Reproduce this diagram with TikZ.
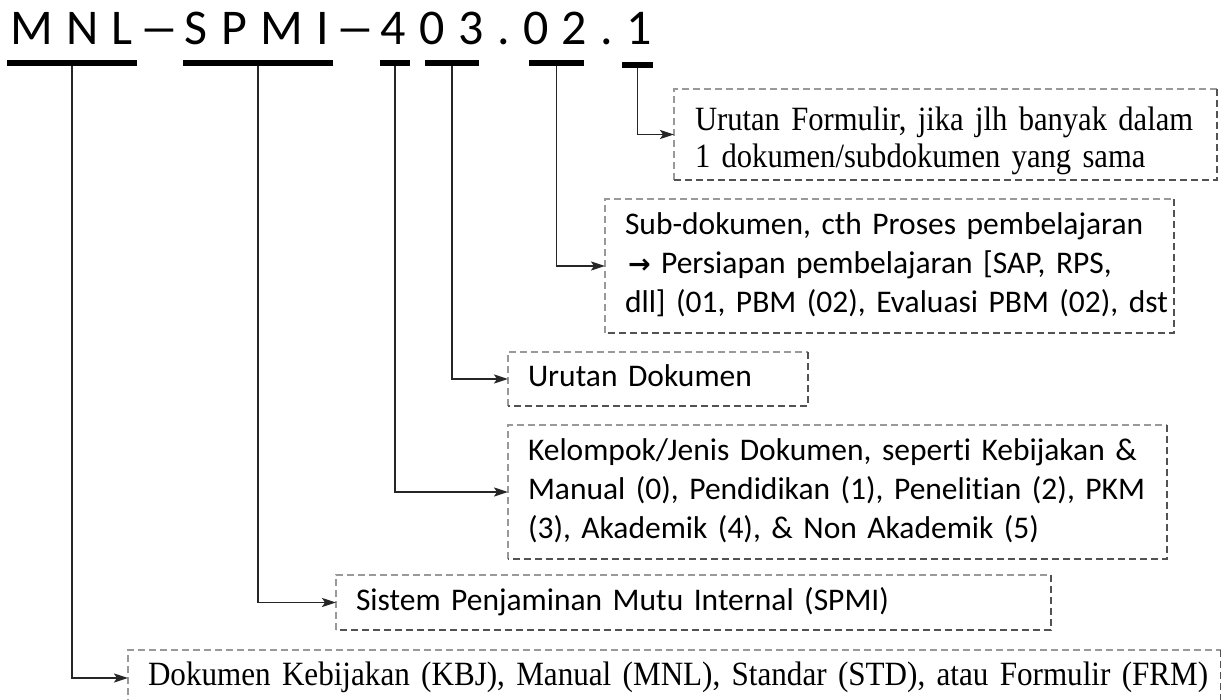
\documentclass[tikz,border=0pt]{standalone}
\usepackage{fontspec}
\setmainfont[Ligatures=CommonOff]{Carlito}
\newfontfamily\seriffont[FakeStretch=0.90]{Liberation Serif}
\newfontfamily\seriffontb[FakeStretch=0.915]{Liberation Serif}
\newfontfamily\arrowfont{DejaVu Sans}
\newfontfamily\titlefont[LetterSpace=26.8]{Carlito}
\usetikzlibrary{arrows.meta}
\newcommand\textlines[1]{\begin{tabular}{@{}l@{}}#1\end{tabular}}
\newcommand\widedash{\hspace{0.268em}\makebox[0.5em][c]{\scalebox{1.6}[1]{–}}\hspace{0.268em}}
\begin{document}
\begin{tikzpicture}[x=1pt,y=-1pt,
  bar/.style={fill=black, draw=none, minimum height=5.5pt, inner sep=0pt, outer sep=0pt},
  conn/.style={draw=black!85, line width=1.9pt, -{Stealth[length=14pt,width=9pt,inset=3pt]}},
  docbox/.style={draw=none, anchor=north west, inner xsep=20pt, inner ysep=0pt, outer sep=0pt, align=left},
  sansbox/.style={docbox, font=\fontsize{31.5}{39}\selectfont},
  serifbox/.style={docbox, font=\seriffont\fontsize{34}{37}\selectfont},
  lightedge/.style={draw=black!40, line width=1.6pt, dash pattern=on 7pt off 4pt},
  darkedge/.style={draw=black!68, line width=1.6pt, dash pattern=on 7pt off 4pt}
]
\useasboundingbox (0,0) rectangle (1221,700);
\clip (0,0) rectangle (1221,700);

% code title
\node[anchor=base west, inner sep=0pt, font=\titlefont\fontsize{50}{60}\selectfont] (title) at (10,45) {MNL\widedash SPMI\widedash 403.02.1};

% underline bars
\node[bar, minimum width=130pt] (bMNL) at (72,63) {};
\node[bar, minimum width=150pt] (bSPMI) at (258,63) {};
\node[bar, minimum width=30pt] (b4) at (395,63) {};
\node[bar, minimum width=54pt] (b03) at (452,63) {};
\node[bar, minimum width=55pt] (b02) at (556.5,63) {};
\node[bar, minimum width=31pt] (b1) at (637.5,65) {};

% boxes
\node[serifbox, inner xsep=21pt, minimum width=543pt, minimum height=91pt, text width=501pt] (formulir) at (674,89)
  {\raisebox{-7pt}[\height][\depth]{\textlines{Urutan Formulir, jika jlh banyak dalam\\1 dokumen/subdokumen yang sama}}};
\node[sansbox, minimum width=569pt, minimum height=134pt, text width=529pt] (sub) at (605,199)
  {\textlines{Sub-dokumen, cth Proses pembelajaran\\\hspace{3pt}{\arrowfont\bfseries\fontsize{27}{39}\selectfont →} Persiapan pembelajaran [SAP, RPS,\\dll] (01, PBM (02), Evaluasi PBM (02), dst}};
\node[sansbox, minimum width=300pt, minimum height=54pt, text width=260pt] (urut) at (508,352)
  {\textlines{Urutan Dokumen}};
\node[sansbox, minimum width=659pt, minimum height=134pt, text width=619pt] (kel) at (508,425)
  {\textlines{Kelompok/Jenis Dokumen, seperti Kebijakan \&\\Manual (0), Pendidikan (1), Penelitian (2), PKM\\(3), Akademik (4), \& Non Akademik (5)}};
\node[sansbox, minimum width=715pt, minimum height=55pt, text width=675pt] (spmi) at (336,575)
  {\textlines{Sistem Penjaminan Mutu Internal (SPMI)}};
\node[serifbox, font=\seriffontb\fontsize{34}{37}\selectfont, minimum width=1093pt, minimum height=56pt, text width=1053pt] (dok) at (128,650)
  {\textlines{Dokumen Kebijakan (KBJ), Manual (MNL), Standar (STD), atau Formulir (FRM)}};

\foreach \n in {formulir,sub,urut,kel,spmi,dok} {
  \draw[lightedge] (\n.south west) -- (\n.north west) -- (\n.north east);
  \draw[darkedge] (\n.north east) -- (\n.south east) -- (\n.south west);
}

% connectors
\draw[conn] (b1.south) |- (formulir.west);
\draw[conn] (b02.south) |- (sub.west);
\draw[conn] (b03.south) |- (urut.west);
\draw[conn] (b4.south) |- (kel.west);
\draw[conn] (bSPMI.south) |- (spmi.west);
\draw[conn] (bMNL.south) |- (dok.west);
\end{tikzpicture}
\end{document}
